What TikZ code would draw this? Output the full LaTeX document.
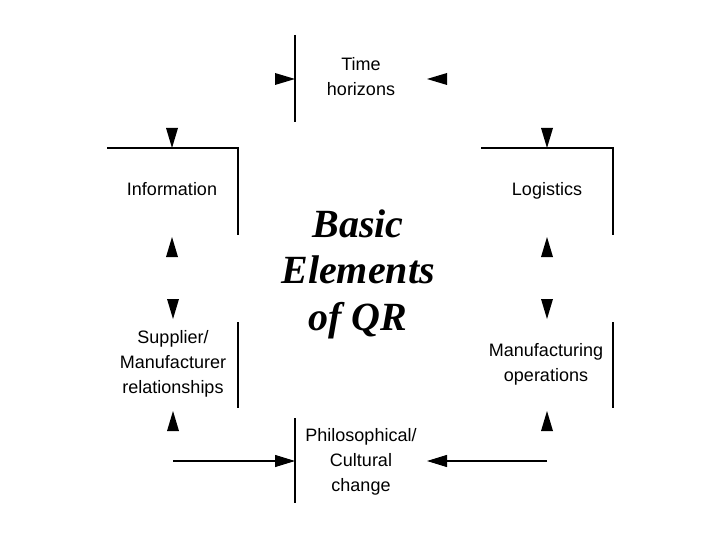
\documentclass[tikz,border=0pt]{standalone}
\usepackage{fontspec}
\setmainfont{Liberation Sans}
\newfontfamily\qrserif{Liberation Serif}
\usetikzlibrary{arrows.meta}
\tikzset{
  lbl/.style={align=center, font=\fontsize{18}{25}\selectfont, inner sep=0pt, anchor=base},
  ttl/.style={align=center, font=\qrserif\bfseries\itshape\fontsize{40}{46.5}\selectfont, inner sep=0pt, anchor=base},
  ln/.style={line width=1.1pt, black},
  tri/.pic={\fill[black] (0,0) -- (-20,6) -- (-20,-6) -- cycle;},
  arr/.style={ln, -{Triangle[length=20pt,width=12pt]}}
}
\begin{document}
\begin{tikzpicture}[x=1pt,y=-1pt]
\useasboundingbox (0,0) rectangle (720,540);
% labels (anchor = baseline of the last line)
\node[lbl] (time) at (361,96) {Time\\horizons};
\node[lbl] (info) at (172,196) {Information};
\node[lbl] (logi) at (547,196) {Logistics};
\node[lbl] (supp) at (173,393) {Supplier/\\Manufacturer\\relationships};
\node[lbl] (manu) at (546,381) {Manufacturing\\operations};
\node[lbl] (phil) at (361,491) {Philosophical/\\Cultural\\change};
\node[ttl] (title) at (358,330) {Basic\\Elements\\of QR};
% frame lines
\coordinate (tA) at (295,35);  \coordinate (tB) at (295,122);
\draw[ln] (tA) -- (tB);
\coordinate (iA) at (107,148); \coordinate (iB) at (238,148); \coordinate (iC) at (238,235);
\draw[ln] (iA) -- (iB) -- (iC);
\coordinate (lA) at (481,148); \coordinate (lB) at (613,148); \coordinate (lC) at (613,235);
\draw[ln] (lA) -- (lB) -- (lC);
\coordinate (sA) at (238,322); \coordinate (sB) at (238,408);
\draw[ln] (sA) -- (sB);
\coordinate (mA) at (613,322); \coordinate (mB) at (613,408);
\draw[ln] (mA) -- (mB);
\coordinate (pA) at (295,418); \coordinate (pB) at (295,503);
\draw[ln] (pA) -- (pB);
% bottom connectors
\coordinate (bL) at (173,461); \coordinate (bLt) at (295,461);
\draw[arr] (bL) -- (bLt);
\coordinate (bR) at (547,461); \coordinate (bRt) at (427,461);
\draw[arr] (bR) -- (bRt);
% free arrowheads
\pic at (295,79) {tri};
\pic[rotate=180] at (427,79) {tri};
\pic[rotate=-90] at (172,148) {tri};
\pic[rotate=-90] at (547,148) {tri};
\pic[rotate=90] at (172,237) {tri};
\pic[rotate=90] at (547,237) {tri};
\pic[rotate=-90] at (173,319) {tri};
\pic[rotate=-90] at (547,319) {tri};
\pic[rotate=90] at (173,411) {tri};
\pic[rotate=90] at (547,411) {tri};
\end{tikzpicture}
\end{document}
